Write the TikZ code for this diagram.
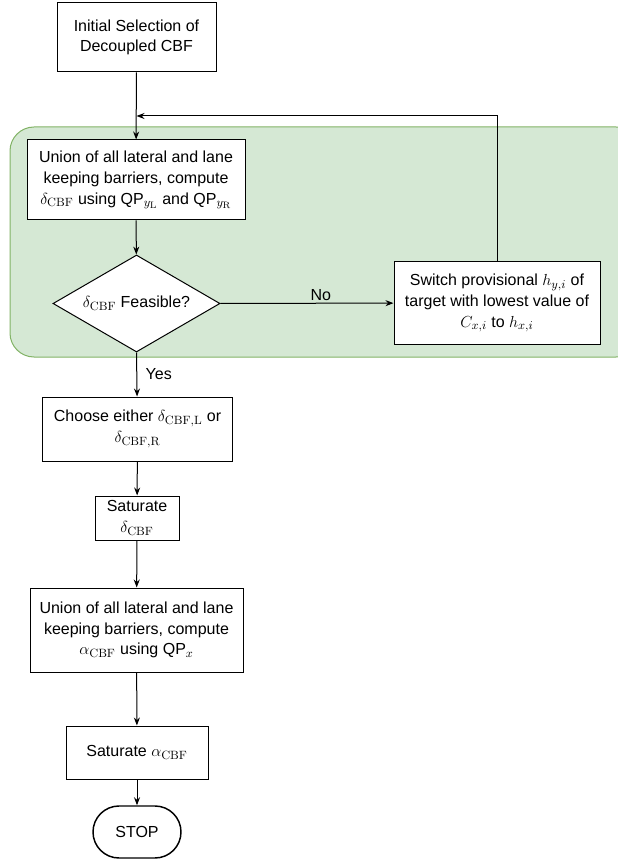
\documentclass[tikz,border=0pt]{standalone}
\usepackage[no-math]{fontspec}
\setmainfont{Liberation Sans}
\usetikzlibrary{shapes.geometric,arrows.meta}
\DeclareMathSizes{12}{13.2}{9.5}{7.5}
\definecolor{loopfill}{HTML}{D5E8D4}
\definecolor{loopline}{HTML}{82B366}
\newcommand{\pxu}{0.75pt}
\begin{document}
\begin{tikzpicture}[x=0.75pt,y=-0.75pt,
  font=\fontsize{12}{15.5}\selectfont,
  box/.style={draw, fill=white, line width=0.75pt, align=center, inner sep=0pt},
  decision/.style={draw, fill=white, line width=0.75pt, diamond, aspect=1.7, inner sep=0pt, align=center},
  terminal/.style={draw, fill=white, line width=1.1pt, align=center, inner sep=0pt},
  arr/.style={-{Stealth[length=6pt,width=4.5pt]}, line width=0.75pt}]
\useasboundingbox (0,0) rectangle (617,862);

% shaded region holding the feasibility loop
\draw[fill=loopfill, draw=loopline, line width=0.75pt, rounded corners=18pt]
  (10,127) rectangle (640,357);

\node[box, minimum width=159*\pxu, minimum height=69*\pxu] (init) at (136.5,37.5)
  {Initial Selection of\\Decoupled CBF};
\node[box, minimum width=218*\pxu, minimum height=80*\pxu] (unionlat) at (136,180)
  {Union of all lateral and lane\\keeping barriers, compute\\$\delta_{\mathrm{CBF}}$ using QP$_{y_{\mathrm{L}}}$ and QP$_{y_{\mathrm{R}}}$};
\node[decision, minimum width=167*\pxu, minimum height=97*\pxu] (feas) at (136.5,303.5)
  {$\delta_{\mathrm{CBF}}$ Feasible?};
\node[box, minimum width=206*\pxu, minimum height=82*\pxu] (switch) at (497,303)
  {Switch provisional $h_{y,i}$ of\\target with lowest value of\\$C_{x,i}$ to $h_{x,i}$};
\node[box, minimum width=190*\pxu, minimum height=64*\pxu] (choose) at (137.5,429)
  {Choose either $\delta_{\mathrm{CBF,L}}$ or\\$\delta_{\mathrm{CBF,R}}$};
\node[box, minimum width=84*\pxu, minimum height=44*\pxu] (satd) at (137,518)
  {Saturate\\$\delta_{\mathrm{CBF}}$};
\node[box, minimum width=213*\pxu, minimum height=84*\pxu] (unionlon) at (136.5,630)
  {Union of all lateral and lane\\keeping barriers, compute\\$\alpha_{\mathrm{CBF}}$ using QP$_{x}$};
\node[box, minimum width=142*\pxu, minimum height=53*\pxu] (sata) at (137,752.5)
  {Saturate $\alpha_{\mathrm{CBF}}$};
\node[terminal, minimum width=88*\pxu, minimum height=52*\pxu, rounded corners=19.5pt] (stop) at (137,832)
  {STOP};

\coordinate (back) at (136.5,116);

\draw[arr] (init) -- (unionlat);
\draw[arr] (unionlat) -- (feas);
\draw[arr] (feas) -- node[above, pos=0.58, inner sep=1.5pt] {No} (switch);
\draw[arr] (switch.north) |- (back);
\draw[arr] (feas.south) -- node[right, pos=0.5, xshift=3pt] {Yes} (choose);
\draw[arr] (choose) -- (satd);
\draw[arr] (satd) -- (unionlon);
\draw[arr] (unionlon) -- (sata);
\draw[arr] (sata) -- (stop);
\end{tikzpicture}
\end{document}
